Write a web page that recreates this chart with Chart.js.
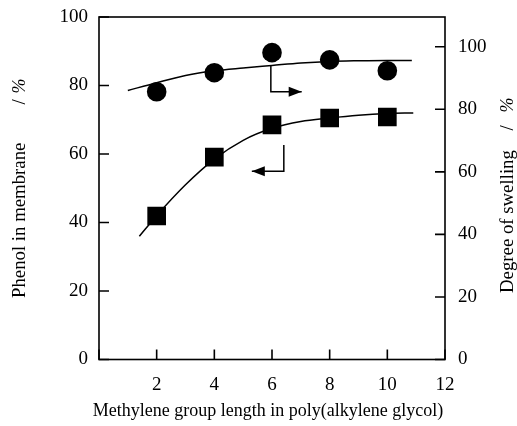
<!DOCTYPE html>
<html>
<head>
<meta charset="utf-8">
<script src="https://cdn.jsdelivr.net/npm/chart.js@4"></script>
<style>
  html, body { margin: 0; padding: 0; background: #fff; }
  #wrap { width: 517px; height: 426px; }
</style>
</head>
<body>
<div id="wrap"><canvas id="chart" width="517" height="426"></canvas></div>
<script>
// measured points
const chainLength = [2, 4, 6, 8, 10];
const phenolPct = [41.9, 59.1, 68.5, 70.5, 70.8];
const swellingPct = [85.6, 91.7, 98.1, 95.8, 92.3];

// hand drawn fit curves
const phenolFitX = [1.4, 2, 3, 4, 5, 6, 7, 8, 9, 10, 10.9];
const phenolFitY = [36, 42, 51, 58.5, 64, 67.5, 69.5, 70.5, 71.3, 71.8, 72];
const swellFitX = [1, 2, 3, 4, 5, 6, 7, 8, 9, 10, 10.85];
const swellFitY = [86, 88.5, 90.8, 92.3, 93.2, 94, 94.8, 95.3, 95.5, 95.6, 95.6];

// axis ticks
const xTicks = [0, 2, 4, 6, 8, 10, 12];
const leftTicks = [0, 20, 40, 60, 80, 100];
const rightTicks = [0, 20, 40, 60, 80, 100];

// arrows telling which axis each curve uses (data units)
const swellArrowX = [5.96, 5.96, 7.03];
const swellArrowY = [93.9, 85.6, 85.6];
const phenolArrowX = [6.41, 6.41, 5.3];
const phenolArrowY = [62.6, 55.0, 55.0];

const FONT = "'Liberation Serif', 'Times New Roman', serif";

const toPts = (xs, ys) => xs.map((x, i) => ({ x: x, y: ys[i] }));

function setTicks(list) {
    return scale => { scale.ticks = list.map(v => ({ value: v })); };
}

// fixed axis box sizes so the plot area lands where it does in the figure
function fitY(width) {
    return s => { s.width = width; s.paddingTop = 0; s.paddingBottom = 0; };
}

// frame, inward ticks, arrows and axis titles
const decorations = {
    id: 'decorations',
    afterDraw(chart) {
        const ctx = chart.ctx;
        const a = chart.chartArea;
        const sx = chart.scales.x, sl = chart.scales.yL, sr = chart.scales.yR;
        ctx.save();
        ctx.strokeStyle = '#000';
        ctx.fillStyle = '#000';
        ctx.lineWidth = 1.6;
        ctx.strokeRect(a.left, a.top, a.right - a.left, a.bottom - a.top);

        const tl = 10;
        ctx.beginPath();
        xTicks.forEach(v => {
            const px = sx.getPixelForValue(v);
            ctx.moveTo(px, a.bottom); ctx.lineTo(px, a.bottom - tl);
        });
        leftTicks.forEach(v => {
            const py = sl.getPixelForValue(v);
            ctx.moveTo(a.left, py); ctx.lineTo(a.left + tl, py);
        });
        rightTicks.forEach(v => {
            const py = sr.getPixelForValue(v);
            ctx.moveTo(a.right, py); ctx.lineTo(a.right - tl, py);
        });
        ctx.stroke();

        // arrows
        function arrow(xs, ys, yScale) {
            const p = xs.map((x, i) => [sx.getPixelForValue(x), yScale.getPixelForValue(ys[i])]);
            ctx.lineWidth = 1.5;
            ctx.beginPath();
            ctx.moveTo(p[0][0], p[0][1]);
            ctx.lineTo(p[1][0], p[1][1]);
            ctx.lineTo(p[2][0], p[2][1]);
            ctx.stroke();
            const dir = Math.sign(p[2][0] - p[1][0]);
            const tip = p[2];
            ctx.beginPath();
            ctx.moveTo(tip[0], tip[1]);
            ctx.lineTo(tip[0] - dir * 13, tip[1] - 5);
            ctx.lineTo(tip[0] - dir * 13, tip[1] + 5);
            ctx.closePath();
            ctx.fill();
        }
        arrow(swellArrowX, swellArrowY, sr);
        arrow(phenolArrowX, phenolArrowY, sl);

        // titles
        ctx.textBaseline = 'middle';
        ctx.textAlign = 'center';
        ctx.font = '18px ' + FONT;
        ctx.fillText('Methylene group length in poly(alkylene glycol)', 268, 411);

        // rotated title: text starts at startY and runs upward
        function vTitle(cx, startY, main, slashOff, pctOff) {
            ctx.save();
            ctx.translate(cx, startY);
            ctx.rotate(-Math.PI / 2);
            ctx.textAlign = 'left';
            ctx.font = '18.8px ' + FONT;
            ctx.fillText(main, 0, 0);
            ctx.textAlign = 'center';
            ctx.fillText('/', slashOff, 0);
            ctx.font = 'italic 18px ' + FONT;
            ctx.fillText('%', pctOff, 0);
            ctx.restore();
        }
        vTitle(20, 298, 'Phenol in membrane', 196, 212);
        vTitle(508, 293, 'Degree of swelling', 165, 188);
        ctx.restore();
    }
};

new Chart(document.getElementById('chart'), {
    type: 'scatter',
    data: {
        datasets: [
            {
                type: 'line',
                data: toPts(phenolFitX, phenolFitY),
                yAxisID: 'yL',
                borderColor: '#000',
                borderWidth: 1.5,
                pointRadius: 0,
                cubicInterpolationMode: 'monotone',
                fill: false
            },
            {
                type: 'line',
                data: toPts(swellFitX, swellFitY),
                yAxisID: 'yR',
                borderColor: '#000',
                borderWidth: 1.5,
                pointRadius: 0,
                cubicInterpolationMode: 'monotone',
                fill: false
            },
            {
                data: toPts(chainLength, phenolPct),
                yAxisID: 'yL',
                pointStyle: 'rect',
                pointRadius: 13.2,
                backgroundColor: '#000',
                borderColor: '#000',
                borderWidth: 0
            },
            {
                data: toPts(chainLength, swellingPct),
                yAxisID: 'yR',
                pointStyle: 'circle',
                pointRadius: 9.8,
                backgroundColor: '#000',
                borderColor: '#000',
                borderWidth: 0
            }
        ]
    },
    options: {
        responsive: false,
        animation: false,
        layout: { padding: { top: 17, left: 0, right: 0, bottom: 0 } },
        plugins: { legend: { display: false }, tooltip: { enabled: false } },
        scales: {
            x: {
                type: 'linear',
                min: 0, max: 12,
                afterBuildTicks: setTicks(xTicks),
                afterFit: s => { s.height = 66.5; s.paddingLeft = 0; s.paddingRight = 0; },
                border: { display: false },
                grid: { display: false, drawTicks: false },
                ticks: {
                    color: '#000', padding: 14,
                    font: { family: FONT, size: 19 },
                    callback: v => v === 0 ? '' : v
                }
            },
            yL: {
                position: 'left',
                min: 0, max: 100,
                afterBuildTicks: setTicks(leftTicks),
                afterFit: fitY(99),
                border: { display: false },
                grid: { display: false, drawTicks: false },
                ticks: { color: '#000', padding: 11, font: { family: FONT, size: 19 } }
            },
            yR: {
                position: 'right',
                min: 0, max: 109.5,
                afterBuildTicks: setTicks(rightTicks),
                afterFit: fitY(72),
                border: { display: false },
                grid: { display: false, drawTicks: false },
                ticks: { color: '#000', padding: 13, font: { family: FONT, size: 19 } }
            }
        }
    },
    plugins: [decorations]
});
</script>
</body>
</html>
